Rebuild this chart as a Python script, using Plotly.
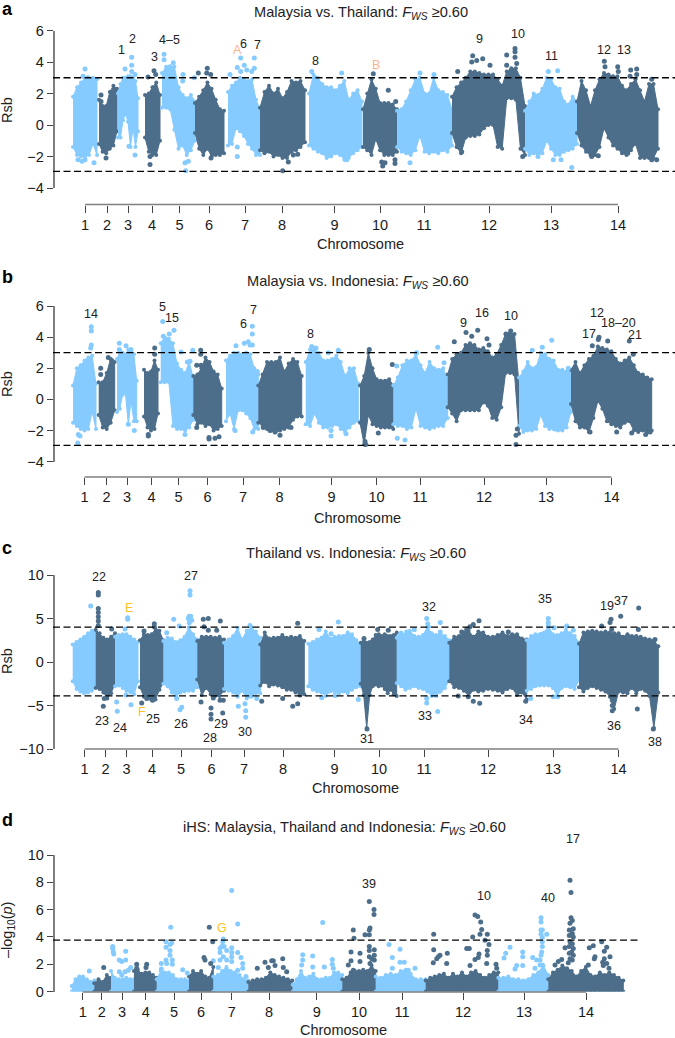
import numpy as np
import plotly.graph_objects as go

WIDTH = 675
HEIGHT = 1038
LIGHT = "#85CBFF"
DARK = "#4C6E8A"
AXIS_GREY = "#7F7F7F"
SALMON = "#F7B48C"
YELLOW = "#FFC21F"

# Genome position is read on a scale of 675 units across the page
# Panel a: Malaysia vs. Thailand
A_START = [73, 99, 118, 145, 162, 195, 228, 260, 309, 363, 397, 452, 525, 577]
A_END = [97, 117, 138, 160, 195, 224, 260, 305, 362, 397, 452, 525, 577, 658]
A_TICKS = [85, 107, 128, 152, 179.5, 209, 245, 282, 334.5, 380, 424, 489, 551, 618]
A_HI = [
    [1.8, 2.4, 2.7, 3.0, 2.9, 3.0, 2.9],
    [1.6, 1.2, 1.2, 2.1, 2.5, 2.3],
    [2.0, 2.6, 3.0, 3.0, 3.1, 3.1, 3.0, 2.8, 1.7],
    [1.9, 2.0, 2.4, 2.7, 1.9],
    [3.3, 3.7, 3.7, 3.7, 2.4, 1.9, 1.7, 1.9, 1.5],
    [1.4, 1.8, 2.2, 2.7, 2.3, 1.6, 1.0, 0.9],
    [2.1, 2.5, 2.7, 3.0, 2.9, 2.8, 2.9, 1.6, 1.0],
    [1.1, 2.1, 2.5, 2.0, 2.3, 1.7, 2.1, 2.8, 2.7, 2.8, 2.2],
    [2.0, 3.2, 3.0, 2.6, 2.4, 2.4, 2.2, 2.5, 2.8, 1.6, 2.0, 2.2, 1.5],
    [1.0, 2.0, 2.9, 2.3, 1.4, 1.4, 1.4, 1.3, 1.0],
    [0.9, 1.0, 1.5, 2.2, 2.9, 3.0, 2.0, 2.0, 3.0, 2.2, 2.1, 1.9, 1.0],
    [1.8, 2.4, 2.7, 3.0, 3.4, 3.4, 3.3, 3.2, 3.2, 3.2, 2.9, 2.5, 3.4, 3.6, 3.6, 3.0, 1.2],
    [0.9, 1.5, 2.0, 1.9, 2.3, 3.0, 2.9, 2.4, 2.3, 1.5, 1.3, 1.8, 1.5],
    [1.5, 2.8, 2.2, 1.2, 2.2, 2.9, 3.3, 3.2, 3.1, 3.1, 2.5, 2.2, 2.6, 2.9, 2.2, 1.5, 2.6, 2.6, 1.0],
]
A_LO = [
    [-1.4, -1.9, -2.0, -2.0, -1.9, -1.2, -1.9],
    [-1.2, -1.7, -1.8, -1.5, -1.3, -0.4],
    [-0.8, -0.8, 0.3, 0.7, 0.2, -1.4, -0.2, -1.4, -0.4],
    [-0.8, -1.7, -1.9, -1.9, -1.0],
    [1.1, 1.1, 1.0, -0.3, -1.5, -1.3, -1.9, -1.6, -1.0],
    [-0.5, -1.5, -1.9, -1.5, -2.0, -1.9, -1.9, -1.8],
    [-1.3, -1.2, -0.2, -0.4, -0.7, -1.2, -1.5, -1.9, -1.9],
    [-1.6, -1.8, -1.7, -2.0, -1.9, -2.1, -2.1, -1.7, -1.6, -1.4, -1.1],
    [-1.3, -1.5, -1.7, -1.8, -2.1, -2.0, -1.8, -1.9, -2.2, -2.1, -1.8, -1.6, -1.4],
    [-1.4, -1.6, -1.9, -0.9, -1.6, -1.9, -1.9, -1.9, -1.7],
    [-1.4, -1.7, -1.8, -1.9, -1.6, -0.7, -1.7, -1.8, -1.7, -1.8, -1.6, -1.7, -1.3],
    [-0.5, -1.4, -1.8, -0.8, -0.7, -0.7, -0.6, -0.2, 0.0, 0.0, -1.4, -1.5, 1.7, 1.7, 1.6, -1.5, -1.9],
    [-1.5, -1.9, -1.8, -1.9, -1.8, -1.0, -1.5, -1.9, -1.9, -1.7, -1.6, -1.5, -1.2],
    [-0.5, -1.3, -1.7, -1.9, -1.9, -1.4, -0.2, -0.8, -1.3, -1.5, -1.8, -1.9, -1.6, -1.2, -2.1, -2.1, -2.1, -2.1, -1.5],
]
A_OUT_X = [85, 83, 88, 78, 82, 85, 94, 101, 101, 106, 125, 131.7, 131.7, 131.7, 135, 135, 129, 154, 155.7, 148,
           150, 150, 164, 164, 173.3, 170, 183, 182.7, 194.3, 185.7, 188.3, 185, 198.3, 207.3, 206.7, 210.7, 211,
           230, 240.7, 237.3, 240.7, 244.3, 246.7, 254.3, 254.3, 251.7, 237.3, 237.3, 282.7, 288.3, 293.3, 297.7,
           311.7, 315, 341.7, 346.7, 373.3, 388.3, 395.7, 381.7, 385, 382.7, 395, 395, 420, 434, 410, 472.7, 471.7,
           476.7, 482.7, 490, 457.7, 461.7, 506.7, 515, 515, 515, 516.7, 506.7, 522.7, 548.3, 557.7, 553.3, 561,
           571.7, 538, 604.3, 605, 617.7, 618.3, 630.7, 636.7, 636.7, 630, 651.7, 598.3, 591.7, 627.7, 656.7, 651.7]
A_OUT_Y = [3.55, 3.1, 3.0, -2.2, -2.3, -2.2, -2.4, 1.9, 1.5, -2.1, 3.55, 4.3, 3.8, 3.4, 3.2, -1.9, -1.35, 3.45, 3.2, 3.05,
           -2.0, -2.5, 4.5, 4.15, 3.95, 3.7, 3.2, 2.8, 3.0, -2.9, -2.3, -2.4, 3.3, 3.6, 3.3, 3.2, -2.1,
           3.2, 4.25, 3.65, 3.4, 3.8, 3.5, 4.25, 3.6, 3.4, -2.0, -1.4, -2.9, -2.35, -1.9, -1.85,
           3.4, 3.0, 3.3, -2.2, 3.25, 2.2, 1.5, -2.35, -2.4, -2.6, -2.2, -2.45, 3.3, 3.2, -2.4, 4.4, 4.0,
           4.1, 4.2, 3.8, 3.4, -1.7, 4.45, 4.85, 4.65, 4.3, 3.9, 3.8, -2.0, 3.4, 3.45, -2.2, -2.2,
           -2.7, -2.0, 4.05, 3.7, 3.7, 3.4, 3.5, 3.55, 3.2, 3.1, 2.9, -1.95, -2.0, -1.8, -2.2, -2.2]

# Panel b: Malaysia vs. Indonesia
B_START = [73, 98.7, 117, 144, 160.7, 193.3, 226, 258.3, 305.7, 360, 393.3, 447.7, 519, 571]
B_END = [96, 114.7, 136.7, 158, 193.3, 221.7, 258.3, 301.7, 358.3, 393.3, 447.7, 519, 571, 651.7]
B_TICKS = [84.5, 106.5, 127, 151.5, 178.5, 207.5, 243, 279.5, 331.5, 376.5, 420, 484, 546, 611.5]
B_HI = [
    [0.9, 2.0, 2.2, 2.5, 2.7, 2.8, 1.0],
    [1.1, 1.1, 1.7, 2.6, 2.4],
    [2.6, 3.1, 3.0, 2.9, 3.2, 3.1, 2.9, 1.2],
    [1.9, 1.7, 1.8, 2.5, 1.9],
    [3.6, 4.0, 3.9, 3.6, 2.3, 1.9, 1.7, 2.4, 1.4],
    [1.5, 1.6, 2.0, 2.7, 2.4, 1.8, 1.6, 0.7],
    [2.5, 2.8, 3.0, 3.0, 2.9, 3.0, 2.9, 2.0, 1.6],
    [0.9, 1.6, 2.4, 2.4, 2.4, 2.7, 1.8, 2.3, 2.6, 2.4, 1.5],
    [2.4, 3.2, 3.2, 3.0, 2.5, 2.5, 2.6, 2.8, 2.4, 1.5, 2.0, 2.0, 1.0],
    [0.9, 1.5, 3.0, 2.0, 1.3, 1.2, 1.2, 1.3, 0.9],
    [0.9, 1.4, 2.2, 2.5, 2.5, 2.9, 2.2, 1.7, 2.4, 2.0, 1.9, 2.0, 1.3],
    [1.6, 2.6, 2.9, 3.0, 3.5, 3.6, 3.5, 3.2, 3.3, 3.1, 2.7, 2.9, 3.5, 4.2, 4.3, 4.2, 1.0],
    [1.4, 1.8, 2.4, 2.0, 2.1, 3.0, 2.9, 2.6, 2.5, 1.9, 1.9, 1.8, 1.9],
    [1.9, 2.4, 1.7, 2.2, 2.6, 2.8, 3.4, 3.3, 3.2, 3.1, 2.6, 2.3, 2.5, 2.7, 2.2, 1.7, 1.6, 1.4, 1.3],
]
B_LO = [
    [-1.5, -1.7, -1.9, -2.0, -1.9, -0.8, -1.9],
    [-1.0, -1.8, -1.9, -1.5, -0.7],
    [-0.8, -0.6, 0.3, 0.4, -1.6, -0.1, -1.4, -1.4],
    [-1.1, -1.8, -2.0, -1.9, -0.9],
    [1.1, 1.1, 1.1, -1.7, -1.9, -1.9, -2.0, -1.8, -1.3],
    [-1.0, -1.6, -1.5, -1.7, -1.6, -2.0, -1.9, -1.7],
    [-1.4, -0.9, -1.9, -0.7, -0.7, -0.9, -1.2, -1.9, -1.9],
    [-1.5, -1.7, -1.9, -2.0, -2.1, -2.0, -1.9, -1.8, -1.3, -1.1, -1.1],
    [-1.6, -1.7, -0.9, -1.5, -1.8, -1.8, -1.7, -1.6, -1.9, -2.1, -1.8, -1.5, -1.4],
    [-1.5, -2.9, -1.0, -1.6, -1.7, -1.8, -1.8, -1.8, -1.9],
    [-1.6, -1.7, -1.7, -1.9, -1.8, -0.6, -1.7, -1.8, -1.9, -1.8, -1.7, -1.7, -1.2],
    [-0.5, -0.9, -1.4, -0.7, -0.7, -0.7, -0.7, -0.7, -0.2, -0.4, -1.2, -1.3, -0.5, 1.7, 1.7, 1.6, -2.2],
    [-1.7, -2.1, -2.0, -2.0, -1.9, -1.0, -1.7, -1.9, -1.9, -2.0, -2.0, -1.8, -0.8],
    [-0.3, -1.4, -1.8, -1.8, -2.1, -1.2, -0.1, -0.6, -1.4, -1.6, -1.7, -1.8, -1.5, -1.4, -2.0, -2.1, -2.0, -2.1, -2.0],
]
B_OUT_X = [91.3, 91.3, 91.3, 90.7, 78.3, 80, 77.7, 100.7, 100.7, 108.3, 111.7, 119.3, 119.3, 126, 131, 134.3, 128.3,
           154.7, 154.7, 148.3, 148.3, 162.7, 174, 169.3, 163.3, 181, 192.7, 190, 185, 187.3, 200.7, 200.7, 196.7, 201,
           196.7, 209, 209, 215, 219, 236, 244.3, 248.3, 252.3, 252.3, 252.3, 250, 235, 257.3, 252.7, 280, 263.3, 275,
           291, 270, 311.7, 316, 328.3, 338.3, 331, 331, 346, 369.3, 392.3, 378.3, 365, 365.7, 437.7, 416.7, 396.7,
           397.3, 405, 444, 454.3, 466, 477.7, 487, 489, 510.7, 506, 516, 516, 517.3, 471.7, 542.3, 551.7, 532.3,
           568.3, 555, 599, 598.3, 592.3, 607.7, 629.3, 633.3, 616.7, 631.7, 645.7, 650, 590]
B_OUT_Y = [4.67, 4.4, 3.5, 3.3, -2.25, -2.35, -2.8, 2.0, 1.6, 2.7, 2.5, 3.6, 3.2, 3.45, 3.2, -2.0, -1.6,
           3.3, 2.9, -2.25, -2.35, 5.0, 4.45, 4.2, 4.05, 3.05, 3.15, 2.45, -2.25, 2.4, 3.15, 2.9, 2.2, 2.2,
           -1.8, -2.45, -2.55, -2.5, -2.4, 3.45, 3.6, 3.7, 4.7, 4.2, 3.5, 3.5, -2.0, 1.8, -2.1, -2.3, -1.8, -2.1,
           -1.8, -2.0, 3.4, 3.3, 3.0, 3.15, -2.35, -2.0, -2.2, 3.2, 2.25, -2.15, -2.7, -2.9, 3.35, 3.0, 2.15,
           -2.5, -2.6, 2.35, 3.7, 4.3, 4.45, 3.9, 3.5, 4.4, 4.2, -2.3, -2.9, -1.9, 4.05, 3.35, 3.8, 3.15,
           2.0, -1.9, 4.0, 3.85, 3.45, 3.75, 3.75, 2.9, -2.1, -2.15, -2.25, -2.1, -2.1]

# Panel c: Thailand vs. Indonesia
C_START = [72.7, 95.7, 115, 140, 163.3, 197.3, 224, 260.3, 308.3, 360.7, 396.7, 449.3, 526.7, 579]
C_END = [95.7, 115, 138, 163.3, 197.3, 224, 260.3, 304.3, 360.7, 396.7, 449.3, 526.7, 579, 658.3]
C_TICKS = [84.5, 105.5, 126.5, 152, 181, 211.5, 244, 283, 334.5, 379, 424, 488, 553, 618.5]
C_HI = [
    [2.0, 2.3, 2.6, 2.9, 3.3, 3.6, 3.5],
    [3.7, 3.3, 2.8, 2.6, 2.9, 3.3],
    [2.9, 3.1, 3.2, 3.2, 2.9, 2.6, 2.3],
    [2.5, 3.2, 3.1, 3.2, 3.8, 3.6, 2.5],
    [2.4, 2.8, 2.7, 2.3, 2.5, 2.9, 4.0, 3.2, 2.6],
    [2.4, 2.9, 2.9, 2.9, 2.8, 2.9, 2.6],
    [2.2, 2.6, 3.0, 3.9, 2.6, 3.6, 4.0, 3.5, 2.8],
    [2.0, 3.4, 2.7, 2.8, 2.8, 3.1, 2.8, 2.9, 2.8, 3.0, 2.4],
    [2.1, 2.3, 2.6, 2.8, 3.5, 2.7, 2.9, 3.0, 3.0, 3.4, 3.2, 2.5, 1.9],
    [2.2, 2.4, 2.2, 2.3, 2.6, 3.1, 3.2, 3.0, 3.2, 3.0, 3.0, 3.1, 3.4],
    [2.8, 3.4, 3.2, 3.6, 3.0, 2.9, 3.1, 4.0, 3.3, 3.1, 3.2, 3.0, 2.5],
    [2.2, 2.9, 3.0, 3.4, 3.6, 2.9, 3.5, 3.4, 2.9, 2.9, 3.1, 3.4, 3.0, 3.2, 3.2, 2.7, 2.6],
    [2.5, 3.0, 3.2, 3.2, 3.4, 4.1, 3.2, 3.1, 3.3, 3.7, 3.3, 3.0, 2.2],
    [2.1, 3.4, 3.5, 3.6, 3.5, 3.4, 3.5, 3.4, 3.3, 3.3, 2.9, 3.2, 3.0, 3.0, 2.9, 2.7, 2.6, 2.5, 1.8],
]
C_LO = [
    [-2.2, -3.1, -3.4, -3.6, -3.5, -3.3, -2.9],
    [-3.0, -3.1, -3.5, -4.2, -3.6, -2.5],
    [-2.8, -2.7, -3.0, -3.3, -3.5, -3.7, -2.2],
    [-2.9, -4.0, -4.2, -4.4, -4.3, -3.2, -2.4],
    [-2.5, -2.8, -3.5, -4.0, -3.5, -3.4, -3.3, -3.3, -2.9],
    [-2.0, -3.8, -3.0, -3.7, -3.9, -3.9, -3.3],
    [-3.1, -3.3, -3.5, -4.0, -3.3, -4.2, -4.0, -3.6, -3.6],
    [-2.7, -2.3, -2.8, -2.6, -2.7, -2.9, -3.2, -3.2, -3.5, -3.6, -3.7],
    [-2.8, -3.2, -3.4, -3.5, -3.9, -3.4, -3.4, -3.6, -3.4, -3.6, -3.2, -2.9, -2.8],
    [-2.5, -3.8, -7.6, -3.8, -2.8, -2.6, -2.8, -2.7, -3.1, -3.6, -3.2, -3.7, -3.9],
    [-2.4, -2.8, -3.2, -3.0, -2.8, -3.0, -3.1, -3.4, -3.9, -3.9, -3.4, -3.0, -2.1],
    [-2.2, -2.9, -3.0, -3.3, -3.9, -3.2, -3.4, -3.3, -3.1, -3.2, -3.3, -3.5, -3.1, -3.0, -3.8, -3.5, -4.3],
    [-3.3, -3.1, -2.8, -2.7, -2.7, -2.7, -3.0, -3.9, -3.0, -2.8, -2.9, -3.1, -2.1],
    [-2.9, -3.4, -3.0, -2.8, -3.0, -3.2, -3.4, -4.0, -5.4, -3.4, -3.5, -3.6, -3.0, -3.6, -3.1, -3.3, -3.9, -7.6, -3.5],
]
C_OUT_X = [90.7, 98.3, 98.3, 98.3, 98.3, 98.3, 98.3, 98.3, 103.3, 111.7, 104.3, 127.7, 127.7, 116.7, 117.3, 131, 125, 126,
           154.3, 154.3, 144, 141.7, 152.7, 146.7, 173.7, 179.3, 190, 190, 189.3, 190.7, 188.3, 191.7, 189.3, 166.7,
           181.7, 180, 176.7, 203.3, 208.3, 220.3, 204, 208.3, 216.7, 201, 211, 211, 211, 222.7, 220, 223.3, 213.3,
           250, 238.3, 245.7, 245.7, 245, 256.7, 261.7, 297.7, 292.7, 297.7, 282.7, 300, 319, 338.3, 321.7, 331, 335,
           364, 377.7, 388.3, 367, 358.3, 426.7, 427.7, 428.3, 440.3, 440.3, 414.3, 426.7, 426.7, 437.7, 400, 406.7,
           479, 473.3, 470, 461.7, 466.7, 473.3, 479.7, 508.3, 525.7, 468.3, 458.3, 548.3, 548.3, 548.3, 554, 566.7,
           573.3, 541.7, 530.7, 553.3, 557.7, 620.7, 611, 610, 638.7, 601.7, 638.3, 611.7, 637.3, 612.3, 612.3, 612.3,
           655, 653.3]
C_OUT_Y = [6.45, 8.0, 7.7, 6.15, 5.7, 5.2, 4.7, 4.2, -5.1, 3.8, -4.2, 5.1, 4.9, -4.6, -5.65, -4.9, 3.8, -3.8,
           4.4, 4.05, 3.55, -4.7, -4.4, -4.2, 4.9, 4.15, 8.2, 7.7, 5.25, 5.25, 5.0, 4.8, 4.5, 3.35,
           -5.2, -5.5, -4.2, 4.9, 5.0, 4.7, 4.05, 3.65, 3.65, -4.6, -5.3, -6.0, -6.55, -5.85, -4.4, -4.4, -4.15,
           4.2, -5.1, -5.6, -6.35, -4.8, -4.2, -4.5, 4.45, -5.1, -4.8, -4.2, -3.8, 3.75, 4.6, -4.1, 3.25, -3.85,
           2.7, 3.75, 3.65, -7.7, -4.3, 5.0, 4.4, 4.05, 4.55, 3.45, 3.7, -4.2, -4.7, -5.7, 3.1, 3.45,
           4.75, 4.3, 4.05, 3.45, 3.75, -4.5, -4.75, 3.45, -4.5, -4.0, -3.9, 5.0, 4.55, 4.15, 3.95, 4.15,
           3.65, 3.2, -4.2, -4.0, -4.0, 5.25, 4.9, 4.55, 6.2, 4.15, 3.75, 3.75, -5.4, -5.6, -5.0, -4.4,
           2.6, -7.7]

# Panel d: iHS, the floor of every chromosome is zero
D_START = [71.7, 94.3, 111, 134, 156.7, 189, 213.3, 248.3, 292.7, 342.3, 375.7, 425.7, 498.3, 548.3]
D_END = [94.3, 111, 134, 156.7, 189, 213.3, 248.3, 292.3, 342.3, 375.7, 425.7, 498.3, 548.3, 623.3]
D_TICKS = [82.7, 101.7, 122, 145.7, 174, 201, 231.7, 269, 316.7, 359, 402, 463, 524, 586]
D_HI = [
    [0.4, 0.9, 1.1, 1.1, 0.9, 0.7, 0.8],
    [0.6, 0.9, 0.7, 1.2, 1.0],
    [1.5, 1.0, 0.9, 0.9, 1.0, 0.9, 0.9],
    [1.5, 1.6, 1.3, 1.4, 1.4, 1.2, 1.0],
    [0.9, 1.5, 1.4, 1.4, 1.2, 0.9, 0.9, 0.9, 0.8],
    [1.1, 1.5, 1.3, 1.5, 1.1, 1.0, 1.8],
    [1.1, 1.2, 1.5, 1.8, 1.5, 1.4, 1.2, 0.9, 0.8],
    [0.7, 0.8, 0.9, 0.9, 1.0, 1.4, 1.2, 1.1, 1.0, 0.9, 0.8],
    [0.5, 0.9, 1.5, 1.0, 1.1, 1.3, 0.9, 0.9, 1.0, 1.0, 1.4, 1.4, 1.2],
    [0.9, 1.0, 1.4, 1.5, 1.5, 1.6, 1.5, 1.9, 1.5],
    [1.1, 1.0, 1.2, 1.3, 1.2, 1.5, 1.6, 1.3, 0.9, 0.9, 0.9],
    [0.8, 1.0, 1.1, 1.2, 1.3, 1.0, 1.3, 1.1, 1.4, 1.1, 1.4, 1.5, 1.2, 1.0, 1.2, 1.4, 1.4],
    [1.0, 1.0, 1.1, 0.9, 0.9, 0.8, 0.9, 1.2, 1.4, 1.9, 1.2],
    [0.9, 1.4, 1.6, 1.9, 1.7, 1.5, 1.1, 1.5, 1.8, 1.2, 1.1, 1.4, 1.2, 1.4, 1.2, 1.0, 0.8],
]
D_OUT_X = [89.3, 103.7, 112.7, 112.7, 113.3, 113.7, 119.3, 121.7, 125.7, 125.7, 130.7, 128.3, 125, 119.3, 121.7,
           136.7, 146.7, 136.7, 146, 170.7, 166, 171.7, 170, 166, 170, 170, 172.3, 172.3, 166, 166.7, 161.3, 161.3,
           182.7, 187.3, 209.3, 212.7, 204, 205, 213.3, 210.7, 231.7, 237.7, 223.3, 222.7, 221.7, 220, 224, 231.7,
           220, 226.7, 231.7, 237.7, 231.7, 241, 220, 226.7, 231.7, 242.7, 242.7, 237.7, 218.3, 246, 223.3,
           282.7, 265, 271.7, 273.3, 275, 268.3, 257.3, 283.3, 286.7, 322.7, 302.7, 302.7, 312.7, 301.7, 312.7,
           324.3, 332.3, 332.3, 333.3, 369.3, 374, 374, 370, 369.3, 369.3, 365, 353.3, 354, 369.3, 369.3, 374.3,
           374.3, 351, 360, 369.3, 371.7, 374.3, 360, 351, 348.3, 370, 353.3, 389, 400, 392.3, 400, 404.3, 415,
           408.3, 392.3, 433.7, 433.7, 475, 477.7, 480.7, 481.7, 480, 487.3, 472.7, 485, 489, 466.7, 469.3, 487.3,
           479, 487.3, 478.3, 475, 486.7, 447.3, 440, 436.7, 438.3, 433.3, 446.7, 470, 496, 496.7, 541, 541, 541,
           542.3, 541, 546.7, 542.3, 542.3, 542.3, 541.7, 541, 510, 505.7, 504, 522.7, 522.7, 522.7, 532.7, 536.7,
           540, 516.7, 515, 540, 542.3, 535, 571, 570, 571, 571, 572.3, 570, 573.3, 569.3, 572.3, 569.3, 573.3, 570,
           572.3, 569.3, 573.3, 571.7, 569.3, 573.3, 570, 572.3, 568.3, 565, 561.7, 558.3, 555, 601.7, 593.3, 589.3,
           606.7, 604.3, 595, 594.3, 610, 604.3, 602.7, 606.7, 588.3, 609, 603.3]
D_OUT_Y = [1.5, 1.75, 3.3, 3.15, 2.9, 2.75, 2.3, 2.2, 2.95, 2.3, 1.75, 1.55, 1.45, 1.45, 1.2,
           2.0, 2.0, 1.7, 1.75, 4.7, 3.65, 3.55, 3.45, 3.25, 3.0, 2.65, 2.3, 2.0, 2.3, 2.05, 2.05, 1.65,
           1.6, 1.35, 4.7, 3.65, 2.5, 2.3, 2.25, 2.05, 7.4, 4.95, 3.85, 3.65, 3.3, 3.15, 3.3, 3.2,
           2.85, 3.0, 2.85, 2.85, 2.55, 2.5, 2.3, 2.3, 2.2, 2.05, 1.7, 1.55, 1.75, 1.1, 2.55,
           2.4, 2.15, 2.25, 2.25, 1.9, 1.75, 1.7, 1.75, 1.45, 5.05, 2.7, 2.3, 2.6, 1.95, 1.8,
           1.8, 2.35, 2.0, 1.7, 6.6, 6.0, 5.65, 4.65, 4.5, 4.15, 4.15, 4.5, 3.9, 3.3, 3.0, 3.05,
           2.65, 2.9, 2.8, 2.55, 2.4, 2.3, 2.2, 2.25, 1.95, 2.05, 1.55, 3.45, 3.1, 2.5, 2.15, 2.15, 1.7,
           1.55, 1.7, 4.2, 3.05, 5.6, 5.5, 5.1, 4.55, 4.2, 4.2, 4.0, 3.75, 3.45, 3.15, 3.15, 3.0,
           2.75, 2.65, 2.5, 2.35, 2.05, 2.8, 2.65, 2.4, 2.55, 2.1, 2.05, 1.9, 2.0, 1.7, 5.4, 5.1, 4.5,
           4.5, 4.2, 4.2, 3.95, 3.65, 3.3, 2.9, 2.65, 3.25, 2.8, 2.45, 2.9, 2.55, 1.9, 2.5, 2.3,
           2.3, 1.9, 1.65, 1.95, 1.95, 1.7, 10.4, 8.15, 7.25, 5.4, 5.2, 5.0, 4.6, 4.5, 4.25, 4.1, 4.0, 3.65,
           3.5, 3.3, 3.15, 2.9, 2.8, 2.65, 2.4, 2.3, 2.1, 3.2, 2.35, 2.2, 1.95, 3.65, 3.35, 3.2,
           3.25, 2.95, 2.55, 2.4, 2.55, 2.4, 2.15, 2.05, 1.95, 1.7, 1.9]

AB_YTICKS = [-4, -2, 0, 2, 4, 6]
C_YTICKS = [-10, -5, 0, 5, 10]
D_YTICKS = [0, 2, 4, 6, 8, 10]
A_THRESH = [3, -2.95]
B_THRESH = [3, -2.95]
C_THRESH = [4, -3.9]
D_THRESH = [3.77]

# text, x px, y px, colour
LABELS_A = [("1", 122, 50), ("2", 132.5, 39), ("3", 154, 57), ("4–5", 169.5, 40), ("A", 237, 50, SALMON), ("6", 244, 44),
            ("7", 257.5, 44.5), ("8", 315, 61), ("B", 376, 65, SALMON), ("9", 479, 39), ("10", 518, 34), ("11", 551, 56),
            ("12", 604, 50), ("13", 624, 50)]
LABELS_B = [("14", 90.5, 314), ("5", 162, 307), ("15", 172, 317.5), ("6", 243, 323.5), ("7", 253, 309.5), ("8", 310, 333.5),
            ("9", 463, 323), ("16", 482, 313), ("10", 511, 316), ("17", 589, 333.5), ("12", 597, 313), ("18–20", 618, 322.5),
            ("21", 635, 335)]
LABELS_C = [("22", 99, 576.5), ("E", 129, 607.5, YELLOW), ("27", 190.5, 576), ("32", 429.5, 606.5), ("35", 545, 599),
            ("19", 607, 606), ("37", 621, 601), ("23", 102, 721), ("24", 119.5, 728), ("F", 142, 712, YELLOW), ("25", 153, 718.5),
            ("26", 181, 724), ("28", 209.5, 737.5), ("29", 220.5, 723.5), ("30", 245, 732), ("31", 367, 739), ("33", 425, 716),
            ("34", 525.5, 720), ("36", 613.5, 725.5), ("38", 655, 742)]
LABELS_D = [("G", 222, 927.5, YELLOW), ("39", 368.5, 884), ("10", 483.5, 896), ("40", 547.5, 898), ("17", 572.5, 839)]

fig = go.Figure()


def px_x(x):
    return x / WIDTH


def px_y(y):
    return 1 - y / HEIGHT


def text(s, x, y, size=14, color="#222222", angle=0, xanchor="center"):
    fig.add_annotation(text=s, x=px_x(x), y=px_y(y), xref="paper", yref="paper", showarrow=False,
                       xanchor=xanchor, yanchor="middle", textangle=angle, borderpad=0,
                       font=dict(family="Liberation Sans", size=size, color=color))


def panel(n, start, end, ticks, hi, lo, out_x, out_y, yticks, yr, ytop, ybottom, xaxis_y, thresh, dash_end):
    xname = f"xaxis{n}" if n > 1 else "xaxis"
    yname = f"yaxis{n}" if n > 1 else "yaxis"
    xref = f"x{n}" if n > 1 else "x"
    yref = f"y{n}" if n > 1 else "y"

    # Each chromosome is a filled band between the top and bottom of its cloud
    for i in range(len(hi)):
        low = lo[i] if lo is not None else [0] * len(hi[i])
        assert len(low) == len(hi[i])
        xs = list(np.linspace(start[i], end[i], len(hi[i])))
        color = LIGHT if i % 2 == 0 else DARK
        fig.add_trace(go.Scatter(x=xs + xs[::-1], y=hi[i] + low[::-1], xaxis=xref, yaxis=yref,
                                 mode="lines+markers", fill="toself", fillcolor=color,
                                 line=dict(color=color, width=1), marker=dict(color=color, size=4),
                                 hoverinfo="skip", showlegend=False))

    # Points standing clear of the band, coloured by the chromosome they fall in
    idx = np.searchsorted(start, out_x, side="right") - 1
    colors = [LIGHT if k % 2 == 0 else DARK for k in idx]
    fig.add_trace(go.Scatter(x=out_x, y=out_y, xaxis=xref, yaxis=yref, mode="markers",
                             marker=dict(color=colors, size=5), hoverinfo="skip", showlegend=False))

    fig.update_layout({
        xname: dict(domain=[0, 1], range=[0, WIDTH], anchor="free", position=px_y(xaxis_y),
                    tickmode="array", tickvals=ticks, ticktext=[str(c) for c in range(1, 15)],
                    ticks="outside", ticklen=7, tickwidth=1, tickcolor="#444444", showline=False,
                    showgrid=False, zeroline=False,
                    tickfont=dict(family="Liberation Sans", size=14.5, color="#1A1A1A")),
        yname: dict(domain=[px_y(ybottom), px_y(ytop)], range=yr, anchor="free", position=px_x(53.5),
                    tickmode="array", tickvals=yticks, ticks="outside", ticklen=6, tickwidth=1,
                    tickcolor="#444444", showline=True, linecolor=AXIS_GREY, linewidth=1.5,
                    showgrid=False, zeroline=False,
                    tickfont=dict(family="Liberation Sans", size=14.5, color="#1A1A1A")),
    })

    # Genome axis line runs only from the first to the last tick
    fig.add_shape(type="line", xref=xref, yref="paper", x0=ticks[0], x1=ticks[-1],
                  y0=px_y(xaxis_y), y1=px_y(xaxis_y), line=dict(color=AXIS_GREY, width=1.5))
    for t in thresh:
        fig.add_shape(type="line", xref="paper", yref=yref, x0=px_x(53), x1=px_x(dash_end), y0=t, y1=t,
                      line=dict(color="black", width=1.3, dash="7px,3.5px"))


panel(1, A_START, A_END, A_TICKS, A_HI, A_LO, A_OUT_X, A_OUT_Y, AB_YTICKS, [-4, 6], 30.5, 188, 204.5, A_THRESH, 675)
panel(2, B_START, B_END, B_TICKS, B_HI, B_LO, B_OUT_X, B_OUT_Y, AB_YTICKS, [-4, 6], 306, 461.7, 477, B_THRESH, 675)
panel(3, C_START, C_END, C_TICKS, C_HI, C_LO, C_OUT_X, C_OUT_Y, C_YTICKS, [-10, 10], 575, 749, 749, C_THRESH, 675)
panel(4, D_START, D_END, D_TICKS, D_HI, None, D_OUT_X, D_OUT_Y, D_YTICKS, [0, 10], 855, 991.5, 992, D_THRESH, 639)

fws = "<i>F<sub>WS</sub></i> ≥0.60"
text("Malaysia vs. Thailand: " + fws, 361, 13, 14.6)
text("Malaysia vs. Indonesia: " + fws, 357.5, 282, 14.6)
text("Thailand vs. Indonesia: " + fws, 356, 554, 14.6)
text("iHS: Malaysia, Thailand and Indonesia: " + fws, 344, 828, 14.6)

text("Chromosome", 360, 244, 14.5)
text("Chromosome", 357.5, 518, 14.5)
text("Chromosome", 355.5, 788, 14.5)
text("Chromosome", 343.5, 1030, 14.5)

text("Rsb", 7, 110, 14.5, angle=-90)
text("Rsb", 7, 384, 14.5, angle=-90)
text("Rsb", 7, 661, 14.5, angle=-90)
text("–log<sub>10</sub>(<i>p</i>)", 8, 930, 14.5, angle=-90)

for letter, y in [("a", 9), ("b", 277), ("c", 548), ("d", 820)]:
    text(f"<b>{letter}</b>", 1, y, 18, "black", xanchor="left")

for rows in (LABELS_A, LABELS_B, LABELS_C, LABELS_D):
    for row in rows:
        text(row[0], row[1], row[2], 12.5, row[3] if len(row) > 3 else "#222222")

# Keep the page geometry fixed: annotations near the edge must not push the margins
fig.update_layout(width=WIDTH, height=HEIGHT, margin=dict(l=0, r=0, t=0, b=0, autoexpand=False), autosize=False,
                  paper_bgcolor="white", plot_bgcolor="white", showlegend=False)

fig.write_html("out.html", config={"displayModeBar": False}, post_script="document.body.style.margin='0';")
